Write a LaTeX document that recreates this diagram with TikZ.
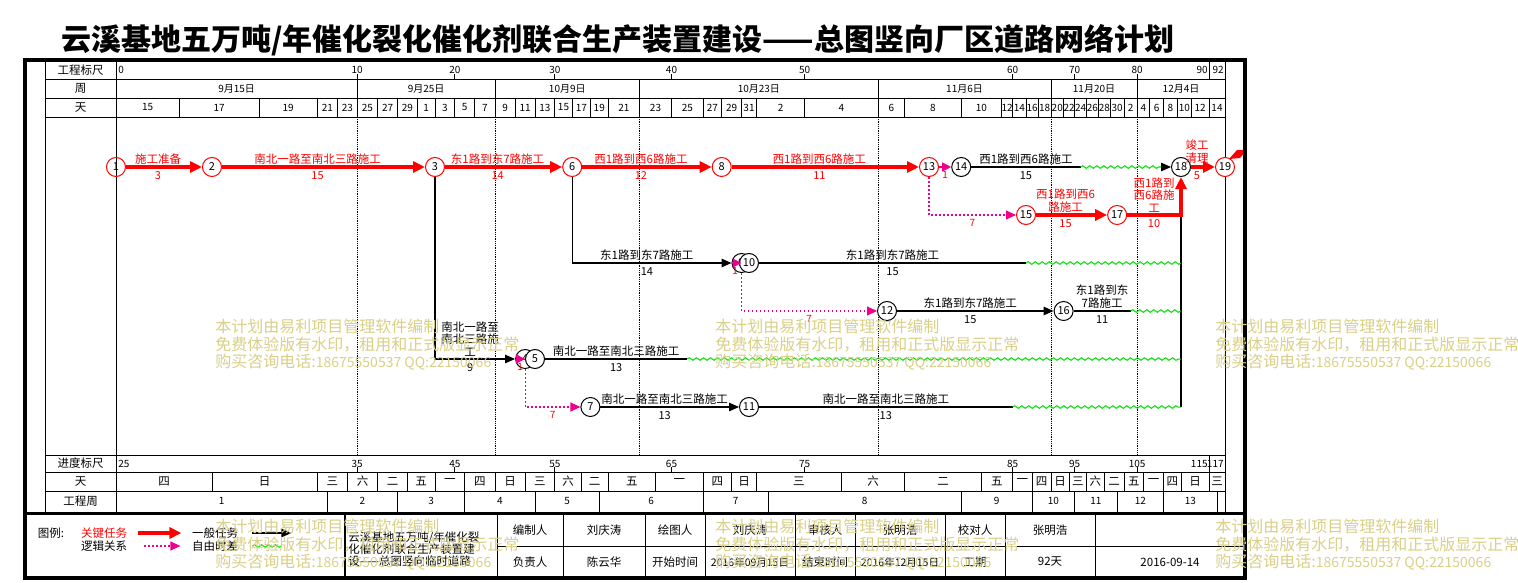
\documentclass[tikz,border=0pt]{standalone}
\usepackage{fontspec}
\setmainfont{Noto Sans CJK SC}
\usetikzlibrary{arrows.meta,calc,decorations.pathmorphing}
\definecolor{wmark}{RGB}{217,207,134}
\definecolor{flgreen}{RGB}{0,225,0}
\begin{document}
\begin{tikzpicture}[x=1pt,y=-1pt,line width=0.8pt,
  hdr/.style={inner sep=0pt,font=\fontsize{10}{11}\selectfont},
  lbl/.style={inner sep=0pt,font=\fontsize{11.5}{12.5}\selectfont},
  nm/.style={above=2.5pt,inner sep=0pt,align=center,font=\fontsize{11.5}{12.5}\selectfont},
  du/.style={below=4pt,inner sep=0pt,font=\fontsize{11}{12}\selectfont},
  fl/.style={below=4pt,inner sep=0pt,red,font=\fontsize{10}{11}\selectfont},
  crit/.style={red,line width=4pt,-{Triangle[length=12pt,width=11pt]}},
  task/.style={black,line width=1.2pt,-{Triangle[length=10pt,width=8.5pt]}},
  plain/.style={black,line width=1.2pt},
  logic/.style={magenta,line width=1.2pt,dash pattern=on 1.5pt off 2.5pt,-{Triangle[length=10pt,width=9pt]}},
  ffarrow/.style={magenta,line width=1pt,-{Triangle[length=9pt,width=9pt]}},
  wavy/.style={flgreen,line width=1pt,decorate,decoration={snake,amplitude=1.3pt,segment length=7pt}},
  cnode/.style={circle,draw=red,fill=white,line width=1pt,minimum size=19pt,inner sep=0pt,font=\fontsize{11}{12}\selectfont},
  bnode/.style={cnode,draw=black},
  wm/.style={anchor=north west,align=left,inner sep=0pt,text=wmark,font=\fontsize{16}{17.5}\selectfont}]
\useasboundingbox (0,0) rectangle (1518,583);

% time scale: one coordinate per day
\foreach \x [count=\i from 0] in {116,179.3,259.1,317.2,337.4,357.2,377.7,397.5,417.2,435,454.8,474.5,495.1,515.2,535,554.8,572.2,590.4,608.1,639.5,671.5,703.1,721.7,741.5,756.5,804.7,878.2,904.7,961.2,1001.5,1012.6,1026,1038.3,1050.9,1063.6,1074.7,1086.5,1098.4,1110.2,1124.1,1137.1,1149.8,1163.6,1177.4,1191.3,1209,1225}
  {\pgfmathtruncatemacro\dd{2*\i}\coordinate (t\dd) at (\x,0);}
\foreach \dd in {1,3,...,91}
  {\pgfmathtruncatemacro\a{\dd-1}\pgfmathtruncatemacro\b{\dd+1}\coordinate (t\dd) at ($(t\a)!.5!(t\b)$);}
\coordinate (t3) at (212,0);
\coordinate (t49) at (768,0);
\coordinate (t53) at (887,0);
\coordinate (t55) at (929,0);
\coordinate (t87) at (1181,0);
\coordinate (rA) at (0,167);
\coordinate (rB) at (0,215);
\coordinate (rC) at (0,263);
\coordinate (rD) at (0,311);
\coordinate (rE) at (0,359);
\coordinate (rF) at (0,407);

\node[anchor=west,inner sep=0pt,font=\bfseries\fontsize{30}{32}\selectfont] (title) at (61,40) {云溪基地五万吨/年催化裂化催化剂联合生产装置建设——总图竖向厂区道路网络计划};

% frame and table
\draw (45,60) -- (45,513);
\draw (116,60) -- (116,513);
\draw (1225,60) -- (1225,513);
\foreach \y in {79,98,117,455,472,491} \draw (45,\y) -- (1225,\y);
\foreach \dd in {10,24,38,52,66,80} \draw[densely dotted] (t\dd|-0,117) -- (t\dd|-0,455);
\node[lbl] (hA) at (80.5,70) {工程标尺};
\node[lbl] (hB) at (80.5,88.5) {周};
\node[lbl] (hC) at (80.5,107.5) {天};
\node[lbl] (hD) at (80.5,463.5) {进度标尺};
\node[lbl] (hE) at (80.5,481.5) {天};
\node[lbl] (hF) at (80.5,501) {工程周};

% top scales
\node[hdr,anchor=west] (s0) at ([xshift=2pt]t0|-0,70) {0};
\foreach \dd in {10,20,...,80} {\draw (t\dd|-0,74) -- (t\dd|-0,79); \node[hdr] (s\dd) at (t\dd|-0,70) {\dd};}
\draw (t90|-0,60) -- (t90|-0,79);
\node[hdr,anchor=east] (s90) at ([xshift=-1pt]t90|-0,70) {90};
\node[hdr,anchor=east] (s92) at ([xshift=-1pt]t92|-0,70) {92};
\foreach \a/\b/\lab in {0/10/9月15日,10/24/9月25日,24/38/10月9日,38/52/10月23日,52/66/11月6日,66/80/11月20日,80/92/12月4日}
  {\draw (t\a|-0,79) -- (t\a|-0,98); \node[hdr] (w\a) at ($(t\a|-0,88.5)!.5!(t\b|-0,88.5)$) {\lab};}
\foreach \lab [count=\i from 0] in {15,17,19,21,23,25,27,29,1,3,5,7,9,11,13,15,17,19,21,23,25,27,29,31,2,4,6,8,10,12,14,16,18,20,22,24,26,28,30,2,4,6,8,10,12,14}
  {\pgfmathtruncatemacro\a{2*\i}\pgfmathtruncatemacro\b{2*\i+2}
   \draw (t\a|-0,98) -- (t\a|-0,117); \node[hdr] (dy\a) at ($(t\a|-0,107.5)!.5!(t\b|-0,107.5)$) {\lab};}

% bottom scales
\node[hdr,anchor=west] (p0) at ([xshift=2pt]t0|-0,463.5) {25};
\foreach \dd in {10,20,...,80} {\pgfmathtruncatemacro\p{\dd+25}\draw (t\dd|-0,467) -- (t\dd|-0,472); \node[hdr] (p\dd) at (t\dd|-0,463.5) {\p};}
\draw (t90|-0,455) -- (t90|-0,472);
\node[hdr,anchor=east] (p90) at ([xshift=-1pt]t90|-0,463.5) {115};
\node[hdr,anchor=east] (p92) at ([xshift=-1pt]t92|-0,463.5) {117};
\foreach \lab [count=\i from 0] in {四,日,三,六,二,五,一,四,日,三,六,二,五,一,四,日,三,六,二,五,一,四,日,三,六,二,五,一,四,日,三}
  {\pgfmathtruncatemacro\a{3*\i}\pgfmathtruncatemacro\b{min(3*\i+3,92)}
   \draw (t\a|-0,472) -- (t\a|-0,491); \node[lbl] (wd\a) at ($(t\a|-0,481.5)!.5!(t\b|-0,481.5)$) {\lab};}
\foreach \a/\b/\lab in {0/7/1,7/14/2,14/21/3,21/28/4,28/35/5,35/42/6,42/49/7,49/56/8,56/63/9,63/70/10,70/77/11,77/84/12,84/91/13}
  {\draw (t\a|-0,491) -- (t\a|-0,513); \node[hdr] (gz\lab) at ($(t\a|-0,501)!.5!(t\b|-0,501)$) {\lab};}
\draw (t91|-0,491) -- (t91|-0,513);

% network
\node[cnode,fill=none] (n1) at (t0|-rA) {1};
\node[cnode] (n2) at (t3|-rA) {2};
\node[cnode] (n3) at (t18|-rA) {3};
\node[cnode] (n6) at (t32|-rA) {6};
\node[cnode] (n8) at (t44|-rA) {8};
\node[cnode] (n13) at (t55|-rA) {13};
\node[bnode] (n14) at (t56|-rA) {14};
\node[bnode] (n18) at (t87|-rA) {18};
\node[cnode] (n19) at (t92|-rA) {19};
\node[cnode] (n15) at (t62|-rB) {15};
\node[cnode] (n17) at (t77|-rB) {17};
\node[bnode] (n9) at (t46|-rC) {9};
\node[bnode] (n10) at (t47|-rC) {10};
\node[bnode] (n12) at (t53|-rD) {12};
\node[bnode] (n16) at (t68|-rD) {16};
\node[bnode] (n4) at (t27|-rE) {4};
\node[bnode] (n5) at (t28|-rE) {5};
\node[bnode] (n7) at (t34|-rF) {7};
\node[bnode] (n11) at (t47|-rF) {11};
\coordinate (f14) at (t71|-rA);
\coordinate (g14) at ($(n18.west)+(-10,0)$);
\coordinate (f10) at (t62|-rC);
\coordinate (e10) at (t87|-rC);
\coordinate (f16) at (t79|-rD);
\coordinate (e16) at (t87|-rD);
\coordinate (f5) at (t41|-rE);
\coordinate (e5) at (t87|-rE);
\coordinate (f11) at (t60|-rF);
\coordinate (e11) at (t87|-rF);

\draw[crit] (n1) -- (n2);
\draw[crit] (n2) -- (n3);
\draw[crit] (n3) -- (n6);
\draw[crit] (n6) -- (n8);
\draw[crit] (n8) -- (n13);
\draw[ffarrow] (n13) -- (n14);
\draw[plain] (n14) -- (f14);
\draw[wavy] (f14) -- (g14);
\draw[task] (g14) -- (n18);
\draw[logic] (n13) |- (n15);
\draw[crit] (n15) -- (n17);
\draw[plain] (e11) -- (n17-|n18);
\draw[crit] (n17) -| (n18);
\draw[crit] (n18) -- (n19);
\fill[red] ($(n19)+(4,-8)$) -- ($(n19)+(12,-17)$) -- ($(n19)+(22,-17)$) -- ($(n19)+(15,-9)$) -- cycle;
\draw[task] (n6) |- (n9);
\draw[ffarrow] (n9.west) -- (n9.center);
\draw[plain] (n10) -- (f10);
\draw[wavy] (f10) -- (e10);
\draw[logic] (n9) |- (n12);
\draw[task] (n12) -- (n16);
\draw[plain] (n16) -- (f16);
\draw[wavy] (f16) -- (e16);
\draw[task] (n3) |- (n4);
\draw[ffarrow] (n4.west) -- (n4.center);
\draw[plain] (n5) -- (f5);
\draw[wavy] (f5) -- (e5);
\draw[logic] (n4) |- (n7);
\draw[task] (n7) -- (n11);
\draw[plain] (n11) -- (f11);
\draw[wavy] (f11) -- (e11);

% activity names and durations
\path (n1.east) -- node[nm,red] (a12) {施工准备} node[du,red] (b12) {3} ([xshift=-12pt]n2.west);
\path (n2.east) -- node[nm,red] (a23) {南北一路至南北三路施工} node[du,red] (b23) {15} ([xshift=-12pt]n3.west);
\path (n3.east) -- node[nm,red] (a36) {东1路到东7路施工} node[du,red] (b36) {14} ([xshift=-12pt]n6.west);
\path (n6.east) -- node[nm,red] (a68) {西1路到西6路施工} node[du,red] (b68) {12} ([xshift=-12pt]n8.west);
\path (n8.east) -- node[nm,red] (a813) {西1路到西6路施工} node[du,red] (b813) {11} ([xshift=-12pt]n13.west);
\path (n13.east) -- node[fl] (b1314) {1} (n14.west);
\path (n14.east) -- node[nm] (a1418) {西1路到西6路施工} node[du] (b1418) {15} (f14);
\path (n13|-n15) -- node[fl] (b1315) {7} (n15.west);
\path (n15.east) -- node[nm,red] (a1517) {西1路到西6\\路施工} node[du,red] (b1517) {15} ([xshift=-12pt]n17.west);
\path (n17.east) -- node[nm,red] (a1718) {西1路到\\西6路施\\工} node[du,red] (b1718) {10} (n17-|n18);
\path (n18.east) -- node[nm,red,above=1pt] (a1819) {竣工\\清理} node[du,red] (b1819) {5} ([xshift=-12pt]n19.west);
\path (n6|-n9) -- node[nm] (a69) {东1路到东7路施工} node[du] (b69) {14} ([xshift=-10pt]n9.west);
\path (n9) -- node[fl] (b910) {1} (n10);
\path (n10.east) -- node[nm] (a10) {东1路到东7路施工} node[du] (b10) {15} (f10);
\path (n9|-n12) -- node[fl] (b912) {7} (n12.west);
\path (n12.east) -- node[nm] (a1216) {东1路到东7路施工} node[du] (b1216) {15} ([xshift=-10pt]n16.west);
\path (n16.east) -- node[nm] (a16) {东1路到东\\7路施工} node[du] (b16) {11} (f16);
\path (n3|-n4) -- node[nm] (a34) {南北一路至\\南北三路施\\工} node[du] (b34) {9} ([xshift=-10pt]n4.west);
\path (n4) -- node[fl] (b45) {1} (n5);
\path (n5.east) -- node[nm] (a5) {南北一路至南北三路施工} node[du] (b5) {13} (f5);
\path (n4|-n7) -- node[fl] (b47) {7} (n7.west);
\path (n7.east) -- node[nm] (a711) {南北一路至南北三路施工} node[du] (b711) {13} ([xshift=-10pt]n11.west);
\path (n11.east) -- node[nm] (a11) {南北一路至南北三路施工} node[du] (b11) {13} (f11);

% legend and title block
\draw[line width=3pt] (25,513) -- (1245,513);
\draw[line width=4pt] (25,60) rectangle (1245,578);
\node[lbl] (lgA) at (51,533) {图例:};
\node[lbl,red] (lgB) at (104,533) {关键任务};
\node[lbl] (lgC) at (104,546) {逻辑关系};
\node[lbl] (lgD) at (215,533) {一般任务};
\node[lbl] (lgE) at (215,546) {自由时差};
\draw[crit] ([xshift=11pt]lgB.east) -- ++(43,0);
\draw[logic] ([xshift=17pt]lgC.east) -- ++(36,0);
\draw[task] ([xshift=14pt]lgD.east) -- ++(39,0);
\draw[wavy] ([xshift=14pt]lgE.east) -- ++(29,0);
\draw[line width=2.5pt] (345,513) -- (345,578);
\foreach \x in {497,563,645,705,795,855,945,1005,1095} \draw (\x,513) -- (\x,578);
\draw (497,546) -- (1245,546);
\node[lbl,anchor=north west,align=left,font=\fontsize{11.5}{12}\selectfont] (tb) at (348,531) {云溪基地五万吨/年催化裂\\化催化剂联合生产装置建\\设——总图竖向临时道路};
\foreach \x/\y/\lab [count=\i] in {530/530/编制人,604/530/刘庆涛,675/530/绘图人,750/530/刘庆涛,825/530/审核人,900/530/张明浩,975/530/校对人,1050/530/张明浩,530/562/负责人,604/562/陈云华,675/562/开始时间,825/562/结束时间,975/562/工期,1050/562/92天,1170/562/2016-09-14}
  \node[lbl] (c\i) at (\x,\y) {\lab};
\node[hdr,font=\fontsize{10.5}{11}\selectfont] (cs) at (750,562) {2016年09月15日};
\node[hdr,font=\fontsize{10.5}{11}\selectfont] (ce) at (900,562) {2016年12月15日};

% watermark
\foreach \x/\y [count=\i] in {215/319,715/319,1215/319,215/519,715/519,1215/519}
  \node[wm] (wm\i) at (\x,\y) {本计划由易利项目管理软件编制\\免费体验版有水印，租用和正式版显示正常\\购买咨询电话:{\fontsize{14}{17.5}\selectfont 18675550537 QQ:22150066}};
\end{tikzpicture}
\end{document}
